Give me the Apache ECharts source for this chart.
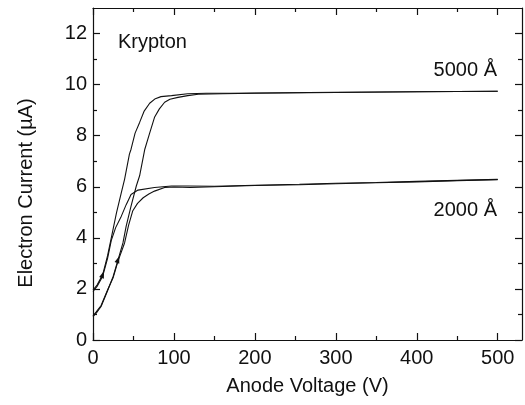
<!DOCTYPE html>
<html>
<head>
<meta charset="utf-8">
<script src="https://cdn.jsdelivr.net/npm/echarts@6/dist/echarts.min.js"></script>
<style>
    html, body { margin: 0; padding: 0; background: #fff; }
    #chart { width: 525px; height: 405px; }
</style>
</head>
<body>
<div id="chart"></div>
<script>
// tick values
var xMajor = [0, 100, 200, 300, 400, 500];
var xMinor = [50, 150, 250, 350, 450];
var yMajor = [0, 2, 4, 6, 8, 10, 12];
var yMinor = [1, 3, 5, 7, 9, 11];

// 5000 A, rising from the upper start point
var up5000 = [[0, 1.95], [5, 2.15], [12, 2.56], [18, 3.3], [22.6, 4.0], [29, 4.98], [35, 5.77],
    [39, 6.29], [45, 7.28], [47, 7.47], [52, 8.1], [57.6, 8.52], [63, 8.95], [70, 9.27],
    [77, 9.45], [84, 9.53], [97, 9.57], [117, 9.64], [140, 9.66], [170, 9.66], [200, 9.67],
    [300, 9.7], [400, 9.72], [500, 9.74]];
// 5000 A, from the lower start point
var low5000 = [[0, 0.92], [4, 1.05], [10, 1.31], [18.5, 1.97], [25, 2.5], [31, 3.15], [37, 3.8],
    [41, 4.46], [47, 5.24], [53.5, 6.03], [57.6, 6.43], [64, 7.47], [70, 8.1], [76, 8.72],
    [82, 9.05], [88.5, 9.31], [95, 9.43], [105, 9.5], [117, 9.57], [130, 9.62], [160, 9.64],
    [200, 9.66], [300, 9.69], [400, 9.72], [500, 9.74]];
// 2000 A, from the upper start point
var up2000 = [[0, 1.9], [5, 2.1], [12, 2.5], [18, 3.2], [22.6, 3.9], [28, 4.4], [35, 4.85],
    [41, 5.3], [47, 5.7], [55.6, 5.87], [76, 5.97], [97, 6.03], [117, 6.03], [150, 6.02],
    [200, 6.06], [255, 6.1], [300, 6.14], [350, 6.17], [400, 6.21], [450, 6.25], [500, 6.29]];
// 2000 A, from the lower start point
var low2000 = [[0, 0.95], [4, 1.1], [10, 1.35], [18.5, 2.0], [25, 2.45], [31, 3.1], [39, 3.8],
    [44, 4.5], [49, 5.05], [55, 5.35], [62, 5.57], [69, 5.72], [76, 5.83], [88.5, 5.97],
    [100, 5.99], [120, 5.97], [150, 6.0], [200, 6.05], [255, 6.08], [300, 6.12], [350, 6.16],
    [400, 6.19], [450, 6.24], [500, 6.28]];

var font = "'Liberation Sans', Arial, Helvetica, sans-serif";
var ink = '#111';
var fs = 20;

function xAxisOf(pos, values, len, labels, line) {
    return {
        type: 'value', position: pos, min: 0, max: 530,
        axisLine: { show: line, onZero: false, lineStyle: { color: ink, width: 1.2 } },
        axisTick: { show: true, inside: true, length: len, customValues: values, lineStyle: { color: ink, width: 1.2 } },
        axisLabel: { show: labels, customValues: values, margin: 8, color: ink, fontSize: fs, fontFamily: font },
        splitLine: { show: false },
        name: labels ? 'Anode Voltage (V)' : '',
        nameLocation: 'middle', nameGap: 36,
        nameTextStyle: { color: ink, fontSize: fs, fontFamily: font }
    };
}
function yAxisOf(pos, values, len, labels, line) {
    return {
        type: 'value', position: pos, min: 0, max: 13,
        axisLine: { show: line, onZero: false, lineStyle: { color: ink, width: 1.2 } },
        axisTick: { show: true, inside: true, length: len, customValues: values, lineStyle: { color: ink, width: 1.2 } },
        axisLabel: { show: labels, customValues: values, margin: 6, color: ink, fontSize: fs, fontFamily: font },
        splitLine: { show: false }
    };
}

function curve(data, arrow) {
    var s = {
        type: 'line', data: data, showSymbol: false, symbol: 'none',
        lineStyle: { color: ink, width: 1.1 }, z: 3, animation: false
    };
    if (arrow) {
        s.markPoint = {
            symbol: 'triangle', symbolSize: [5, 7], symbolRotate: -20, silent: true,
            itemStyle: { color: ink }, label: { show: false },
            data: [{ coord: arrow }]
        };
    }
    return s;
}

function note(text, x, y, align, rot) {
    return {
        type: 'text', x: x, y: y, rotation: rot || 0,
        style: { text: text, fill: ink, fontSize: fs, fontFamily: font, align: align, verticalAlign: 'middle' }
    };
}

var chart = echarts.init(document.getElementById('chart'));
chart.setOption({
    animation: false,
    grid: { left: 93, right: 3, top: 8, bottom: 65 },
    xAxis: [
        xAxisOf('bottom', xMajor, 7, true, true),
        xAxisOf('bottom', xMinor, 4, false, false),
        xAxisOf('top', xMajor, 7, false, true),
        xAxisOf('top', xMinor, 4, false, false)
    ],
    yAxis: [
        yAxisOf('left', yMajor, 7, true, true),
        yAxisOf('left', yMinor, 4, false, false),
        yAxisOf('right', yMajor, 7, false, true),
        yAxisOf('right', yMinor, 4, false, false)
    ],
    series: [
        curve(up5000, up5000[2]),
        curve(low5000, low5000[5]),
        curve(up2000),
        curve(low2000)
    ],
    graphic: [
        note('Krypton', 118, 42, 'left'),
        note('5000 Å', 497, 70, 'right'),
        note('2000 Å', 497, 210, 'right'),
        note('Electron Current (µA)', 26, 193, 'center', Math.PI / 2)
    ]
});
</script>
</body>
</html>
